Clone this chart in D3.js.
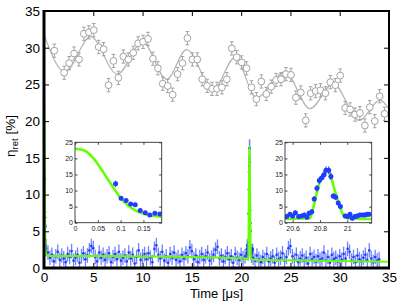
<!DOCTYPE html>
<html>
<head>
<meta charset="utf-8">
<script src="https://cdn.jsdelivr.net/npm/d3@7"></script>
<style>
body { margin: 0; background: #fff; }
svg text { font-family: "Liberation Sans", Arial, Helvetica, sans-serif; }
</style>
</head>
<body>
<div id="chart"></div>
<script>
var svgWidth = 399;
var svgHeight = 301;

// main axes
var xTicks = [0, 5, 10, 15, 20, 25, 30, 35];
var yTicks = [0, 5, 10, 15, 20, 25, 30, 35];

// grey series (upper oscillating data)
var grayTime = [1.05, 2.05, 2.55, 3.05, 3.55, 4.05, 4.55, 5.05, 5.55, 6.05, 6.55, 7.05, 7.55, 8.05, 8.55,
  9.05, 9.55, 10.05, 10.55, 11.05, 11.55, 12.05, 12.55, 13.05, 13.55, 14.05, 14.55, 15.05, 15.55,
  16.05, 16.55, 17.05, 17.55, 18.05, 18.55, 19.05, 19.55, 20.05, 20.55, 21.05, 21.55, 22.05, 22.55,
  23.05, 23.55, 24.05, 24.55, 25.05, 25.55, 26.05, 26.55, 27.05, 27.55, 28.05, 28.55, 29.05, 29.55,
  30.05, 30.55, 31.05, 31.55, 32.05, 32.55, 33.05, 33.55, 34.05, 34.55];
var grayEta = [29.6, 26.6, 27.9, 29.2, 28.4, 31.9, 32.1, 32.4, 30.1, 29.8, 24.9, 28.2, 25.9, 28.8, 28.4,
  29.3, 30.6, 30.8, 31.2, 28.5, 27.2, 25.1, 24.8, 23.6, 26.4, 27.9, 31.3, 28.4, 28.4,
  25.7, 24.8, 24.4, 24.4, 24.6, 25.7, 29.9, 28.7, 28.0, 27.2, 24.6, 23.0, 25.4, 23.7,
  24.7, 25.6, 25.7, 26.4, 26.3, 23.2, 23.9, 20.1, 23.8, 24.1, 24.2, 23.8, 25.3, 24.9,
  26.2, 21.8, 21.6, 20.9, 21.1, 19.4, 21.9, 20.0, 23.4, 21.0];
var grayErr = 0.9;
var grayFitTime = [0, 2.13, 4.73, 7.44, 10.0, 12.44, 14.47, 17.17, 19.37, 21.57, 24.44, 26.98, 29.34, 31.98, 34.08, 35];
var grayFitEta = [31.8, 26.7, 31.5, 26.4, 30.8, 25.7, 29.75, 24.3, 28.66, 23.2, 26.7, 21.7, 25.1, 20.1, 22.85, 21.6];

// blue series, baseline noise sampled every 0.2 us
var blueStep = 0.2;
var blueStartA = 0.2;   // 0.2 .. 20.4
var blueA = [2.6, 2.1, 1.4, 1.8, 0.9, 1.6, 2.2, 1.1, 1.7, 1.3,
  0.8, 1.9, 1.5, 2.3, 1.0, 1.4, 1.8, 0.7, 1.6, 2.0,
  1.2, 1.7, 2.4, 3.0, 2.7, 1.5, 0.9, 2.1, 1.4, 1.8,
  1.1, 1.6, 2.0, 0.8, 1.5, 1.9, 1.2, 2.2, 1.0, 1.4,
  1.7, 0.9, 2.1, 1.3, 1.8, 0.6, 1.5, 2.4, 1.1, 1.6,
  1.9, 1.2, 2.0, 1.4, 0.8, 2.6, 3.1, 1.8, 1.3, 2.2,
  1.0, 1.6, 0.7, 1.9, 1.4, 2.1, 1.1, 1.5, 0.9, 1.8,
  1.3, 2.0, 1.6, 2.8, 2.3, 1.2, 1.7, 0.8, 1.5, 1.9,
  1.1, 1.6, 2.1, 1.0, 1.4, 1.8, 2.5, 2.9, 1.3, 1.7,
  0.9, 1.5, 2.0, 1.2, 1.6, 0.7, 1.9, 1.4, 1.1, 1.8,
  1.3, 1.6];
var blueStartB = 21.2;  // 21.2 .. 34.0
var blueB = [1.4, 1.0, 1.7, 1.2, 0.8,
  1.5, 1.1, 1.9, 0.9, 1.3, 1.6, 0.7, 1.8, 1.2, 1.4,
  2.0, 1.0, 1.5, 2.7, 3.0, 1.6, 1.1, 1.8, 0.8, 1.3,
  1.7, 1.0, 1.4, 0.6, 1.9, 1.2, 1.5, 0.9, 1.6, 1.1,
  1.3, 2.1, 1.0, 1.5, 0.7, 1.8, 1.2, 1.4, 0.9, 1.6,
  1.1, 1.9, 1.3, 2.6, 2.2, 1.0, 1.5, 0.8, 1.7, 1.2,
  0.9, 1.4, 1.8, 1.1, 2.4, 1.3, 0.8, 1.5, 1.0, 1.2];
var blueErr = 1.0;

// early decay (left inset)
var earlyTime = [0.089, 0.101, 0.112, 0.122, 0.132, 0.143, 0.154, 0.164, 0.175, 0.186];
var earlyEta = [12.1, 7.6, 6.9, 5.8, 5.6, 3.8, 3.1, 2.4, 2.9, 2.7];
var earlyErr = [1.0, 0.7, 0.6, 0.6, 0.6, 0.5, 0.5, 0.5, 0.5, 0.5];

// retrieval peak (right inset)
var spikeTime = [20.556, 20.58, 20.6, 20.62, 20.644, 20.666, 20.685, 20.705, 20.72, 20.74, 20.758,
  20.778, 20.795, 20.812, 20.83, 20.844, 20.864, 20.88, 20.897, 20.915, 20.934, 20.95,
  20.985, 21.003, 21.02, 21.037, 21.056, 21.073, 21.093, 21.113, 21.13, 21.146, 21.16];
var spikeEta = [1.9, 2.6, 2.1, 3.1, 1.9, 2.1, 2.4, 1.7, 2.9, 3.4, 7.4,
  10.7, 13.1, 13.9, 14.9, 16.3, 16.3, 14.4, 8.3, 7.9, 6.1, 5.0,
  2.1, 1.9, 2.6, 1.4, 1.9, 2.1, 2.4, 2.4, 2.4, 2.6, 2.6];
var spikeErr = [0.7, 0.7, 0.7, 0.8, 0.7, 0.7, 0.7, 0.7, 0.8, 0.8, 0.9,
  1.0, 1.1, 1.1, 1.2, 1.2, 1.2, 1.1, 0.9, 0.9, 0.8, 0.8,
  0.7, 0.7, 0.7, 0.7, 0.7, 0.7, 0.7, 0.7, 0.7, 0.7, 0.7];

// green fit
var fitEarlyTime = [0, 0.022, 0.04, 0.056, 0.07, 0.085, 0.1, 0.115, 0.13, 0.152, 0.174, 0.19];
var fitEarlyEta = [23, 22.4, 20.1, 17.0, 13.9, 10.75, 7.6, 5.5, 4.0, 2.7, 2.1, 1.9];
var fitBaseTime1 = [0.4, 5, 10, 15, 20.3];
var fitBaseEta1 = [1.65, 1.62, 1.58, 1.5, 1.3];
var fitSpikeTime = [20.54, 20.727, 20.75, 20.776, 20.8, 20.824, 20.849, 20.873, 20.897, 20.922, 20.946, 20.97, 20.995, 21.18];
var fitSpikeEta = [1.2, 1.4, 4.5, 9.2, 12.8, 15.1, 16.5, 15.4, 11.8, 8.1, 5.0, 2.4, 1.4, 1.15];
var fitBaseTime2 = [21.4, 25, 30, 35];
var fitBaseEta2 = [1.12, 1.05, 0.95, 0.85];

// inset ticks
var insetYTicks = [0, 5, 10, 15, 20, 25];
var leftInsetXTicks = [0, 0.05, 0.1, 0.15];
var rightInsetXTicks = [20.6, 20.8, 21];

var grayColor = "#a3a3a3";
var greenColor = "#66ff00";
var blueColor = "#1f3cff";
var lightBlue = "#6f82ff";

var svg = d3.select("#chart")
  .append("svg")
  .attr("width", svgWidth)
  .attr("height", svgHeight);

var x = d3.scaleLinear().domain([0, 35]).range([44, 389]);
var y = d3.scaleLinear().domain([0, 35]).range([268, 11]);

function zip(ts, vs, es) {
  return ts.map((t, i) => ({ t: t, v: vs[i], e: Array.isArray(es) ? es[i] : es }));
}

var grayData = zip(grayTime, grayEta, grayErr);
var grayFit = zip(grayFitTime, grayFitEta, 0);

var blueData = zip(earlyTime, earlyEta, earlyErr)
  .concat(blueA.map((v, i) => ({ t: blueStartA + i * blueStep, v: v, e: blueErr })))
  .concat(zip(spikeTime, spikeEta, spikeErr))
  .concat(blueB.map((v, i) => ({ t: blueStartB + i * blueStep, v: v, e: blueErr })));

var fitEarly = zip(fitEarlyTime, fitEarlyEta, 0);
var fitSpike = zip(fitSpikeTime, fitSpikeEta, 0);
var greenFit = fitEarly
  .concat(zip(fitBaseTime1, fitBaseEta1, 0))
  .concat(fitSpike)
  .concat(zip(fitBaseTime2, fitBaseEta2, 0));

var plot = svg.append("g");

// grey fit line
plot.append("path")
  .datum(grayFit)
  .attr("fill", "none")
  .attr("stroke", "#b4b4b4")
  .attr("stroke-width", 1.2)
  .attr("d", d3.line().x(d => x(d.t)).y(d => y(d.v)).curve(d3.curveMonotoneX));

// grey error bars + circles
var grayG = plot.append("g").attr("stroke", grayColor).attr("stroke-width", 1);
grayG.selectAll(".gbar")
  .data(grayData)
  .enter()
  .append("path")
  .attr("fill", "none")
  .attr("d", d => {
    var cx = x(d.t), y1 = y(d.v + d.e), y2 = y(d.v - d.e);
    return `M${cx},${y1}V${y2}M${cx - 1.8},${y1}H${cx + 1.8}M${cx - 1.8},${y2}H${cx + 1.8}`;
  });
grayG.selectAll("circle")
  .data(grayData)
  .enter()
  .append("circle")
  .attr("cx", d => x(d.t))
  .attr("cy", d => y(d.v))
  .attr("r", 3.4)
  .attr("fill", "#fff");

// blue error bars + points
plot.append("g")
  .selectAll("line")
  .data(blueData)
  .enter()
  .append("line")
  .attr("x1", d => x(d.t))
  .attr("x2", d => x(d.t))
  .attr("y1", d => y(d.v + d.e))
  .attr("y2", d => y(Math.max(0, d.v - d.e)))
  .attr("stroke", lightBlue)
  .attr("stroke-width", 1.3);
plot.append("g")
  .selectAll("circle")
  .data(blueData)
  .enter()
  .append("circle")
  .attr("cx", d => x(d.t))
  .attr("cy", d => y(d.v))
  .attr("r", 1.3)
  .attr("fill", blueColor);

// green fit
plot.append("path")
  .datum(greenFit)
  .attr("fill", "none")
  .attr("stroke", greenColor)
  .attr("stroke-width", 2)
  .attr("d", d3.line().x(d => x(d.t)).y(d => y(d.v)).curve(d3.curveMonotoneX));

// axes
svg.append("g")
  .attr("transform", "translate(0,268)")
  .call(d3.axisBottom(x).tickValues(xTicks).tickSizeInner(-5).tickSizeOuter(0).tickPadding(4));
svg.append("g")
  .attr("transform", "translate(44,0)")
  .call(d3.axisLeft(y).tickValues(yTicks).tickSizeInner(-5).tickSizeOuter(0).tickPadding(4));
svg.append("g")
  .attr("transform", "translate(0,11)")
  .call(d3.axisTop(x).tickValues(xTicks).tickSizeInner(-5).tickSizeOuter(0).tickFormat(""));
svg.append("g")
  .attr("transform", "translate(389,0)")
  .call(d3.axisRight(y).tickValues(yTicks).tickSizeInner(-5).tickSizeOuter(0).tickFormat(""));
svg.selectAll(".domain").remove();
svg.selectAll(".tick text")
  .attr("font-size", 13.5)
  .attr("fill", "#000")
  .style("font-family", "'Liberation Sans', Arial, sans-serif");

// frame
svg.append("rect")
  .attr("x", 44).attr("y", 11)
  .attr("width", 345).attr("height", 257)
  .attr("fill", "none")
  .attr("stroke", "#000")
  .attr("stroke-width", 2);
svg.append("path")
  .attr("d", "M44,10V268H390")
  .attr("fill", "none")
  .attr("stroke", "#000")
  .attr("stroke-width", 3);

// axis titles
svg.append("text")
  .attr("x", 216.5)
  .attr("y", 297.5)
  .attr("text-anchor", "middle")
  .attr("font-size", 13)
  .text("Time [μs]");

var ylab = svg.append("text")
  .attr("transform", "translate(15,136) rotate(-90)")
  .attr("text-anchor", "middle")
  .attr("font-size", 13.5);
ylab.append("tspan").text("η");
ylab.append("tspan").attr("font-size", 9.5).attr("dy", 2.5).text("ret");
ylab.append("tspan").attr("dy", -2.5).text(" [%]");

// insets
function drawInset(id, x0, x1, domain, ticks, pts, fit) {
  var ix = d3.scaleLinear().domain(domain).range([x0, x1]);
  var iy = d3.scaleLinear().domain([0, 25]).range([222.7, 142.3]);
  var g = svg.append("g");

  g.append("rect")
    .attr("x", x0).attr("y", 142.3)
    .attr("width", x1 - x0).attr("height", 222.7 - 142.3)
    .attr("fill", "#fff");

  svg.append("clipPath").attr("id", id)
    .append("rect")
    .attr("x", x0).attr("y", 142.3)
    .attr("width", x1 - x0).attr("height", 222.7 - 142.3);

  var inner = g.append("g").attr("clip-path", `url(#${id})`);
  inner.append("path")
    .datum(fit)
    .attr("fill", "none")
    .attr("stroke", greenColor)
    .attr("stroke-width", 2.6)
    .attr("d", d3.line().x(d => ix(d.t)).y(d => iy(d.v)).curve(d3.curveMonotoneX));
  inner.selectAll("line")
    .data(pts)
    .enter()
    .append("line")
    .attr("x1", d => ix(d.t))
    .attr("x2", d => ix(d.t))
    .attr("y1", d => iy(d.v + d.e))
    .attr("y2", d => iy(d.v - d.e))
    .attr("stroke", blueColor)
    .attr("stroke-width", 1);
  inner.selectAll("circle")
    .data(pts)
    .enter()
    .append("circle")
    .attr("cx", d => ix(d.t))
    .attr("cy", d => iy(d.v))
    .attr("r", 2.5)
    .attr("fill", blueColor);

  var axes = g.append("g");
  axes.append("g")
    .attr("transform", "translate(0,222.7)")
    .call(d3.axisBottom(ix).tickValues(ticks).tickSizeInner(-2.5).tickSizeOuter(0).tickPadding(3.5).tickFormat(d => d));
  axes.append("g")
    .attr("transform", `translate(${x0},0)`)
    .call(d3.axisLeft(iy).tickValues(insetYTicks).tickSizeInner(-2.5).tickSizeOuter(0).tickPadding(2));
  axes.append("g")
    .attr("transform", "translate(0,142.3)")
    .call(d3.axisTop(ix).tickValues(ticks).tickSizeInner(-2.5).tickSizeOuter(0).tickFormat(""));
  axes.append("g")
    .attr("transform", `translate(${x1},0)`)
    .call(d3.axisRight(iy).tickValues(insetYTicks).tickSizeInner(-2.5).tickSizeOuter(0).tickFormat(""));
  axes.selectAll(".domain").remove();
  axes.selectAll(".tick line").attr("stroke", "#444");
  axes.selectAll(".tick text")
    .attr("font-size", 7)
    .attr("fill", "#222")
    .style("font-family", "'Liberation Sans', Arial, sans-serif");

  g.append("rect")
    .attr("x", x0).attr("y", 142.3)
    .attr("width", x1 - x0).attr("height", 222.7 - 142.3)
    .attr("fill", "none")
    .attr("stroke", "#333")
    .attr("stroke-width", 0.9);
}

drawInset("clipL", 75, 161.7, [0, 0.19], leftInsetXTicks, zip(earlyTime, earlyEta, earlyErr), fitEarly);
drawInset("clipR", 285, 371.7, [20.544, 21.179], rightInsetXTicks, zip(spikeTime, spikeEta, spikeErr), fitSpike);
</script>
</body>
</html>
